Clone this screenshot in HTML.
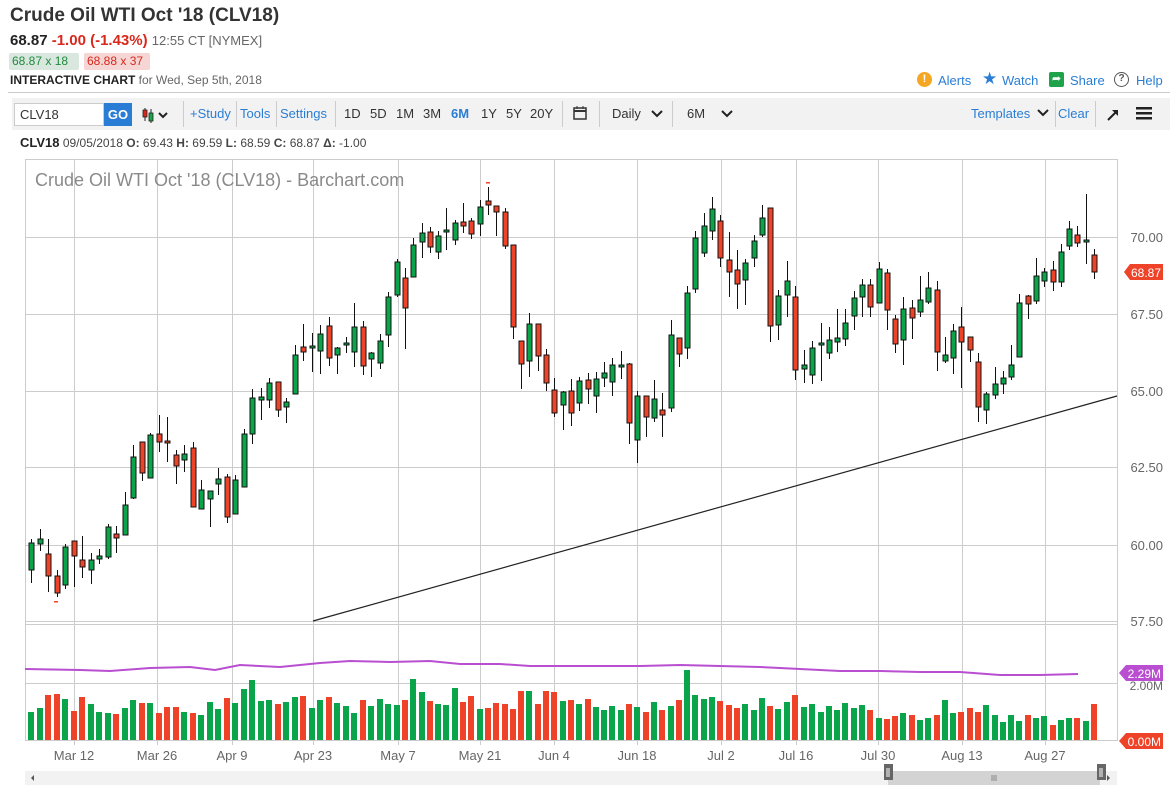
<!DOCTYPE html>
<html><head><meta charset="utf-8"><style>
*{margin:0;padding:0;box-sizing:border-box}
body{width:1170px;height:798px;background:#fff;font-family:"Liberation Sans",sans-serif;position:relative;overflow:hidden;color:#333}
.a{position:absolute;white-space:nowrap}
</style></head><body>
<div class="a" style="left:10px;top:5px;font-size:19px;font-weight:bold;color:#333">Crude Oil WTI Oct '18 (CLV18)</div>
<div class="a" style="left:10px;top:32px;font-size:15px;font-weight:bold;color:#222">68.87 <span style="color:#d8281c">-1.00 (-1.43%)</span> <span style="font-weight:normal;font-size:13px;color:#666">12:55 CT [NYMEX]</span></div>
<div class="a" style="left:9px;top:53px;height:17px;width:70px;background:#d9e7df;border-radius:2px;font-size:12px;color:#1f8a3c;padding:1px 3px">68.87 x 18</div>
<div class="a" style="left:84px;top:53px;height:17px;width:66px;background:#f6d6d4;border-radius:2px;font-size:12px;color:#d8281c;padding:1px 3px">68.88 x 37</div>
<div class="a" style="left:10px;top:73px;font-size:12px;color:#666"><b style="color:#222">INTERACTIVE CHART</b> for Wed, Sep 5th, 2018</div>
<div class="a" style="left:917px;top:72px;width:15px;height:15px;border-radius:50%;background:#f5a623;color:#fff;font-size:11px;font-weight:bold;text-align:center;line-height:15px">!</div>
<div class="a" style="left:938px;top:73px;font-size:13px;color:#2a7dd4">Alerts</div>
<div class="a" style="left:982px;top:69px;font-size:17px;color:#2a7dd4">★</div>
<div class="a" style="left:1002px;top:73px;font-size:13px;color:#2a7dd4">Watch</div>
<div class="a" style="left:1049px;top:72px;width:15px;height:15px;border-radius:2px;background:#1ea34a;color:#fff;font-size:11px;text-align:center;line-height:15px">➦</div>
<div class="a" style="left:1070px;top:73px;font-size:13px;color:#2a7dd4">Share</div>
<div class="a" style="left:1114px;top:72px;width:15px;height:15px;border-radius:50%;border:1.5px solid #555;color:#555;font-size:10px;font-weight:bold;text-align:center;line-height:12px">?</div>
<div class="a" style="left:1136px;top:73px;font-size:13px;color:#2a7dd4">Help</div>
<div class="a" style="left:8px;top:92px;width:1162px;height:1px;background:#ccc"></div>
<div class="a" style="left:12px;top:98px;width:1158px;height:32px;background:#f2f2f2"></div>
<div class="a" style="left:14px;top:103px;width:90px;height:23px;background:#fff;border:1px solid #ccc;font-size:13px;padding:3px 5px;color:#333">CLV18</div>
<div class="a" style="left:104px;top:103px;width:28px;height:23px;background:#2a7dd4;color:#fff;font-weight:bold;font-size:13px;text-align:center;line-height:23px">GO</div>
<svg class="a" style="left:141px;top:106px" width="32" height="18"><line x1="4" y1="2" x2="4" y2="15" stroke="#222"/><rect x="2" y="4" width="4" height="7" fill="#d8281c" stroke="#222" stroke-width=".8"/><line x1="10" y1="3" x2="10" y2="17" stroke="#222"/><rect x="8" y="7" width="4" height="8" fill="#1ea34a" stroke="#222" stroke-width=".8"/><path d="M18 7 L22 11 L26 7" fill="none" stroke="#222" stroke-width="2"/></svg>
<div class="a" style="left:183px;top:101px;width:1px;height:26px;background:#ccc"></div>
<div class="a" style="left:190px;top:106px;font-size:13px;color:#2a7dd4">+Study</div>
<div class="a" style="left:236px;top:101px;width:1px;height:26px;background:#ccc"></div>
<div class="a" style="left:240px;top:106px;font-size:13px;color:#2a7dd4">Tools</div>
<div class="a" style="left:276px;top:101px;width:1px;height:26px;background:#ccc"></div>
<div class="a" style="left:280px;top:106px;font-size:13px;color:#2a7dd4">Settings</div>
<div class="a" style="left:335px;top:101px;width:1px;height:26px;background:#ccc"></div>
<div class="a" style="left:344px;top:106px;font-size:13px;color:#333">1D</div>
<div class="a" style="left:370px;top:106px;font-size:13px;color:#333">5D</div>
<div class="a" style="left:396px;top:106px;font-size:13px;color:#333">1M</div>
<div class="a" style="left:423px;top:106px;font-size:13px;color:#333">3M</div>
<div class="a" style="left:451px;top:106px;font-size:13px;color:#2a7dd4;font-weight:bold">6M</div>
<div class="a" style="left:481px;top:106px;font-size:13px;color:#333">1Y</div>
<div class="a" style="left:506px;top:106px;font-size:13px;color:#333">5Y</div>
<div class="a" style="left:530px;top:106px;font-size:13px;color:#333">20Y</div>
<div class="a" style="left:562px;top:101px;width:1px;height:26px;background:#ccc"></div>
<svg class="a" style="left:573px;top:105px" width="14" height="15"><rect x="1" y="3" width="12" height="11" fill="none" stroke="#333" stroke-width="1.5"/><line x1="1" y1="6" x2="13" y2="6" stroke="#333" stroke-width="2"/><line x1="4" y1="1" x2="4" y2="4" stroke="#333"/><line x1="10" y1="1" x2="10" y2="4" stroke="#333"/></svg>
<div class="a" style="left:599px;top:101px;width:1px;height:26px;background:#ccc"></div>
<div class="a" style="left:612px;top:106px;font-size:13px;color:#333">Daily</div>
<svg class="a" style="left:651px;top:110px" width="12" height="8"><path d="M1 1 L6 6 L11 1" fill="none" stroke="#222" stroke-width="2"/></svg>
<div class="a" style="left:672px;top:101px;width:1px;height:26px;background:#ccc"></div>
<div class="a" style="left:687px;top:106px;font-size:13px;color:#333">6M</div>
<svg class="a" style="left:721px;top:110px" width="12" height="8"><path d="M1 1 L6 6 L11 1" fill="none" stroke="#222" stroke-width="2"/></svg>
<div class="a" style="left:971px;top:106px;font-size:13px;color:#2a7dd4">Templates</div>
<svg class="a" style="left:1037px;top:109px" width="12" height="8"><path d="M1 1 L6 6 L11 1" fill="none" stroke="#222" stroke-width="2"/></svg>
<div class="a" style="left:1055px;top:101px;width:1px;height:26px;background:#ccc"></div>
<div class="a" style="left:1058px;top:106px;font-size:13px;color:#2a7dd4">Clear</div>
<div class="a" style="left:1095px;top:101px;width:1px;height:26px;background:#ccc"></div>
<svg class="a" style="left:1106px;top:108px" width="14" height="14"><path d="M2 12 L11 3" stroke="#222" stroke-width="2"/><path d="M6 2 L12 2 L12 8 Z" fill="#222"/></svg>
<svg class="a" style="left:1136px;top:107px" width="16" height="13"><rect x="0" y="0" width="16" height="2.5" fill="#222"/><rect x="0" y="5" width="16" height="2.5" fill="#222"/><rect x="0" y="10" width="16" height="2.5" fill="#222"/></svg>
<div class="a" style="left:20px;top:135px;font-size:12px;color:#444"><b style="font-size:13px;color:#222">CLV18</b> 09/05/2018 <b>O:</b> 69.43 <b>H:</b> 69.59 <b>L:</b> 68.59 <b>C:</b> 68.87 <b>Δ:</b> -1.00</div>

<svg id="ch" class="a" style="left:0;top:0" width="1170" height="798"></svg>
<script>
var s=[];
function L(x1,y1,x2,y2,c,w){s.push('<line x1="'+x1+'" y1="'+y1+'" x2="'+x2+'" y2="'+y2+'" stroke="'+c+'" stroke-width="'+(w||1)+'"/>');}
function R(x,y,w,h,f,st){s.push('<rect x="'+x+'" y="'+y+'" width="'+w+'" height="'+h+'" fill="'+f+'"'+(st?' stroke="'+st+'" stroke-width="1"':'')+'/>');}
function T(x,y,t,c,sz,an,fw){s.push('<text x="'+x+'" y="'+y+'" fill="'+c+'" font-size="'+sz+'" text-anchor="'+(an||'start')+'" font-weight="'+(fw||'normal')+'" font-family="Liberation Sans, sans-serif">'+t+'</text>');}
L(25,159.5,1117,159.5,'#ccc');
var gx=[74,157,232,313,398,480,554,637,721,796,878,962,1045];
gx.forEach(function(x){L(x+.5,160,x+.5,740,'#ccc');});
[237,314,391,467,545,621].forEach(function(y){L(25,y+.5,1117,y+.5,'#ccc');});
L(25,624.5,1117,624.5,'#ccc');L(25,683.5,1117,683.5,'#ccc');L(25,740.5,1117,740.5,'#ccc');
L(25.5,159,25.5,741,'#ccc');L(1117.5,159,1117.5,741,'#ccc');
T(35,186,"Crude Oil WTI Oct '18 (CLV18) - Barchart.com",'#8a8a8a',18);
var ps=[[237,'70.00'],[314,'67.50'],[391,'65.00'],[467,'62.50'],[545,'60.00'],[621,'57.50']];
ps.forEach(function(p){T(1163,p[0]+5,p[1],'#666',13,'end');});
T(1163,690,'2.00M','#666',12,'end');
var G='#0aa54a',Rd='#ee4328';
var d=[['g',543,570,539,583],['g',539,544,529,551],['r',554,576,539,592],['r',576,593,570,597],['g',547,585,544,589],['r',541,556,541,587],['r',560,567,536,578],['g',560,570,553,584],['g',556,559,549,564],['g',527,557,524,559],['r',534,538,526,553],['g',505,535,492,535],['g',457,498,445,499],['r',442,473,442,481],['g',435,478,433,478],['r',434,442,415,452],['r',441,443,417,462],['r',455,466,450,484],['g',454,460,445,472],['r',448,507,442,507],['g',490,509,480,509],['g',491,499,491,527],['g',479,484,468,495],['r',477,517,474,523],['g',480,514,475,514],['g',434,487,429,487],['g',398,434,389,444],['g',397,400,388,420],['g',383,400,378,408],['r',382,410,382,417],['g',402,407,398,423],['g',355,394,345,394],['r',347,352,324,361],['g',346,348,333,372],['g',334,351,325,374],['r',326,358,317,366],['g',348,355,347,374],['g',343,345,337,353],['g',327,352,303,367],['r',327,366,321,375],['g',353,359,352,377],['g',341,363,334,369],['g',297,335,292,347],['g',262,295,259,297],
['r',278,308,268,349],['g',245,277,238,277],['g',233,242,223,258],['r',232,247,227,253],['g',236,252,231,259],['g',230,232,208,250],['g',223,240,220,245],['r',222,226,203,233],['r',221,234,218,239],['g',207,224,200,236],['r',201,205,187,215],['r',206,212,206,236],['r',212,246,208,249],['r',245,327,245,339],['r',341,364,341,389],['g',324,361,313,377],['r',324,356,324,371],['r',355,383,349,391],['r',390,413,378,417],['g',392,405,391,430],['r',391,413,379,426],['g',381,403,377,411],['r',380,389,373,404],['g',379,396,372,413],['g',373,378,362,387],['g',365,382,358,396],['g',365,367,351,379],['r',364,423,363,444],['g',396,440,391,463],['r',396,417,396,437],['g',399,418,380,422],['r',410,415,393,437],['g',335,408,320,412],['r',338,354,338,367],['g',293,348,286,359],['g',238,289,231,293],['g',226,253,213,257],['g',209,231,197,240],['r',221,258,215,267],['r',260,272,232,297],['r',270,284,250,309],['g',263,280,259,305],['g',241,258,235,267],['g',218,235,205,237],['r',208,326,208,342],['g',296,325,290,340],['g',281,295,261,317],['r',297,370,286,380],
['g',365,369,350,383],['g',348,375,341,384],['g',343,345,323,381],['g',340,353,327,359],['g',338,342,309,352],['g',323,339,309,346],['g',298,316,291,330],['g',285,297,279,317],['r',285,307,279,317],['g',269,303,262,303],['r',273,310,269,330],['r',319,344,315,353],['g',309,340,297,365],['r',308,318,300,339],['g',300,312,276,317],['g',288,302,272,304],['r',290,352,281,371],['g',355,361,337,363],['g',331,358,324,374],['r',327,342,307,388],['r',337,350,337,362],['r',362,407,353,422],['g',394,410,392,424],['g',384,395,367,399],['g',378,384,371,394],['g',365,377,345,380],['g',303,357,294,357],['r',296,304,295,319],['g',276,301,258,304],['g',272,281,268,287],['r',270,282,261,291],['g',252,282,244,287],['g',229,246,221,250],['r',235,243,226,247],['g',240,242,194,264],['r',255,272,249,279]];
var vol=[28,32,45,46,41,29,43,36,28,27,26,32,40,37,37,27,33,33,28,27,25,38,31,42,37,51,60,39,40,36,38,43,44,32,40,43,37,34,27,40,34,41,36,35,40,61,48,39,36,35,52,38,44,31,32,37,36,31,49,49,36,49,48,39,40,36,41,33,30,
34,30,36,33,28,38,30,34,40,70,45,41,43,39,35,32,36,30,42,34,31,38,45,33,36,28,34,30,37,32,35,30,
22,21,24,27,25,20,22,25,40,27,28,32,28,35,25,18,25,19,25,22,24,15,20,22,22,19,36];
function xat(i){if(i<44)return 31+i*(397-31)/43; if(i<92)return 405+(i-44)*(795-405)/47; return 804+(i-92)*(1094-804)/35;}
L(313,621,1117,396,'#222',1.2);
d.forEach(function(c,i){var x=Math.round(xat(i));var col=c[0]=='g'?G:Rd;
 L(x+.5,c[3],x+.5,c[4],'#111');
 var h=Math.max(c[2]-c[1],1.5);R(x-2,c[1],5,h,col,'#111');
 var v=vol[i]||30;R(x-3,740-v,6,v,col);
});
R(54,601,4,1.5,Rd);R(486,182,4,1.5,Rd);
var mp=[[25,669],[80,670],[110,671],[150,668],[190,667],[215,670],[240,665],[280,667],[320,663],[350,661],[390,662],[430,661],[460,664],[500,664],[530,666],[560,666],[600,666],[640,666],[680,665],[720,666],[760,667],[800,669],[840,671],[880,671],[920,672],[960,672],[1000,675],[1040,675],[1078,674]];
s.push('<polyline points="'+mp.map(function(p){return p.join(',')}).join(' ')+'" fill="none" stroke="#b94fd0" stroke-width="2"/>');
s.push('<path d="M1124 272 L1130 264 L1163 264 L1163 280 L1130 280 Z" fill="#ee4328"/>');T(1161,277,'68.87','#fff',12,'end');
s.push('<path d="M1119 673 L1126 665 L1163 665 L1163 681 L1126 681 Z" fill="#b94fd0"/>');T(1161,678,'2.29M','#fff',12,'end');
s.push('<path d="M1119 741 L1126 733 L1163 733 L1163 749 L1126 749 Z" fill="#ee4328"/>');T(1161,746,'0.00M','#fff',12,'end');
var dl=['Mar 12','Mar 26','Apr 9','Apr 23','May 7','May 21','Jun 4','Jun 18','Jul 2','Jul 16','Jul 30','Aug 13','Aug 27'];
dl.forEach(function(t,i){L(gx[i]+.5,740,gx[i]+.5,745,'#ccc');T(gx[i],760,t,'#666',13,'middle');});
R(25,771,1092,14,'#f2f2f2');R(888,771,212,14,'#d3d3d3');
R(884,764,9,16,'#666');R(1097,764,9,16,'#666');
L(887,768,887,777,'#fff');L(889,768,889,777,'#fff');L(1100,768,1100,777,'#fff');L(1102,768,1102,777,'#fff');
L(992,775,992,781,'#888');L(994,775,994,781,'#888');L(996,775,996,781,'#888');
s.push('<path d="M31 778 L34 775 L34 781 Z" fill="#555"/><path d="M1110 778 L1107 775 L1107 781 Z" fill="#555"/>');
document.getElementById('ch').innerHTML=s.join('');
</script>
</body></html>
